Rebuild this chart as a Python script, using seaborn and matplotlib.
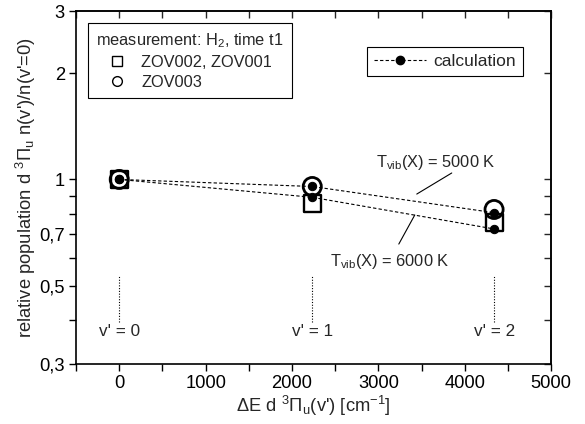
import matplotlib
matplotlib.use("Agg")
import matplotlib.pyplot as plt
import matplotlib.ticker as mticker
from matplotlib.lines import Line2D
import seaborn as sns
import pandas as pd
import numpy as np

# ---- data ----
energy = [0, 2235, 4340]                 # ΔE d 3Πu(v') [cm-1]
vib_labels = ["v' = 0", "v' = 1", "v' = 2"]
meas_square = [1.0, 0.857, 0.755]        # ZOV002, ZOV001
meas_circle = [1.0, 0.955, 0.822]        # ZOV003
calc_5000 = [1.0, 0.955, 0.805]          # Tvib(X) = 5000 K
calc_6000 = [1.0, 0.890, 0.724]          # Tvib(X) = 6000 K

y_major = [0.3, 0.5, 0.7, 1, 2, 3]
y_major_labels = ["0,3", "0,5", "0,7", "1", "2", "3"]
y_minor = [0.4, 0.6, 0.8, 0.9]
x_major = [0, 1000, 2000, 3000, 4000, 5000]

sns.set_style("ticks")
plt.rcParams['font.family'] = ['Liberation Sans', 'DejaVu Sans']
plt.rcParams['mathtext.fontset'] = 'custom'
plt.rcParams['mathtext.rm'] = 'Liberation Sans'
plt.rcParams['mathtext.it'] = 'Liberation Sans:italic'
plt.rcParams['font.size'] = 12

FS = 13.2

fig = plt.figure(figsize=(5.85, 4.24), dpi=100)
ax = fig.add_axes([0.130, 0.1415, 0.812, 0.8325])
ax.set_yscale('log')

df_meas = pd.DataFrame({"E": energy + energy,
                        "pop": meas_square + meas_circle,
                        "set": ["sq"] * 3 + ["ci"] * 3})
sns.scatterplot(data=df_meas[df_meas.set == "sq"], x="E", y="pop", marker="s",
                s=150, facecolor="none", edgecolor="black", linewidth=1.7,
                ax=ax, legend=False, zorder=3)
sns.scatterplot(data=df_meas[df_meas.set == "ci"], x="E", y="pop", marker="o",
                s=170, facecolor="none", edgecolor="black", linewidth=2.0,
                ax=ax, legend=False, zorder=3)

for vals in (calc_5000, calc_6000):
    sns.lineplot(x=energy, y=vals, ax=ax, color="black", linewidth=0.8,
                 linestyle=(0, (3, 2)), marker="o", markersize=6,
                 markeredgecolor="black", markerfacecolor="black", zorder=4,
                 legend=False)

# vertical dotted markers and v' labels
for e, lab in zip(energy, vib_labels):
    ax.plot([e, e], [0.394, 0.532], color="black", linestyle=(0, (1, 1.5)),
            linewidth=0.8)
    ax.text(e, 0.372, lab, ha="center", va="center", fontsize=12.3)

# annotations
ax.text(3665, 1.12, r"T$_{\rm vib}$(X) = 5000 K", ha="center", va="center", fontsize=11.8)
ax.annotate("", xy=(3445, 0.909), xytext=(3850, 1.043),
            arrowprops=dict(arrowstyle="-", color="black", lw=0.8,
                            shrinkA=0, shrinkB=0))
ax.text(3133, 0.587, r"T$_{\rm vib}$(X) = 6000 K", ha="center", va="center", fontsize=11.8)
ax.annotate("", xy=(3422, 0.793), xytext=(3237, 0.656),
            arrowprops=dict(arrowstyle="-", color="black", lw=0.8,
                            shrinkA=0, shrinkB=0))

ax.set_xlim(-500, 5000)
ax.set_ylim(0.3, 3)
ax.set_xticks(x_major)
ax.xaxis.set_minor_locator(mticker.MultipleLocator(500))
ax.yaxis.set_major_locator(mticker.FixedLocator(y_major))
ax.yaxis.set_major_formatter(mticker.FixedFormatter(y_major_labels))
ax.yaxis.set_minor_locator(mticker.FixedLocator(y_minor))
ax.yaxis.set_minor_formatter(mticker.NullFormatter())
ax.tick_params(axis='both', which='both', direction='out', length=5, width=1,
               labelsize=FS, colors='black', pad=3)

for sp in ax.spines.values():
    sp.set_linewidth(1.2)
    sp.set_color('black')
    sp.set_visible(True)

# mirrored ticks pointing inward on top/right
axt = ax.secondary_xaxis('top')
axt.set_xticks(x_major)
axt.xaxis.set_minor_locator(mticker.MultipleLocator(500))
axt.tick_params(axis='x', which='both', direction='in', length=5, width=1,
                labeltop=False)
axr = ax.secondary_yaxis('right')
axr.yaxis.set_major_locator(mticker.FixedLocator(y_major))
axr.yaxis.set_minor_locator(mticker.FixedLocator(y_minor))
axr.yaxis.set_minor_formatter(mticker.NullFormatter())
axr.tick_params(axis='y', which='both', direction='in', length=5, width=1,
                labelright=False)
for s in (axt, axr):
    for sp in s.spines.values():
        sp.set_linewidth(1.2)

ax.set_xlabel(r"$\Delta$E d $^3\Pi_{\rm u}$(v') [cm$^{-1}$]", fontsize=FS, labelpad=1)
ax.set_ylabel(r"relative population d $^3\Pi_{\rm u}$ n(v')/n(v'=0)", fontsize=FS, labelpad=1)

# legends
h_sq = Line2D([], [], marker='s', linestyle='none', markerfacecolor='none',
              markeredgecolor='black', markersize=7, markeredgewidth=1.0)
h_ci = Line2D([], [], marker='o', linestyle='none', markerfacecolor='none',
              markeredgecolor='black', markersize=7, markeredgewidth=1.0)
leg1 = ax.legend([h_sq, h_ci], ["ZOV002, ZOV001", "ZOV003"],
                 title=r"measurement: H$_2$, time t1", loc="upper left",
                 bbox_to_anchor=(0.025, 0.966), borderaxespad=0, fontsize=11.8,
                 title_fontsize=11.8, fancybox=False, framealpha=1,
                 edgecolor='black', handletextpad=0.15, labelspacing=0.3,
                 borderpad=0.5, handlelength=2.6, handleheight=0.7)
leg1._legend_box.align = "left"
leg1.get_frame().set_linewidth(0.8)
ax.add_artist(leg1)

h_calc = Line2D([], [], color='black', linewidth=0.8, linestyle=(0, (3, 2)),
                marker='o', markersize=6, markerfacecolor='black')
leg2 = ax.legend([h_calc], ["calculation"], loc="upper left",
                 bbox_to_anchor=(0.613, 0.898), borderaxespad=0, fontsize=12.5,
                 fancybox=False, framealpha=1, edgecolor='black',
                 handlelength=3.0, handletextpad=0.4, borderpad=0.4)
leg2.get_frame().set_linewidth(0.8)

fig.savefig("out.png", dpi=100)
